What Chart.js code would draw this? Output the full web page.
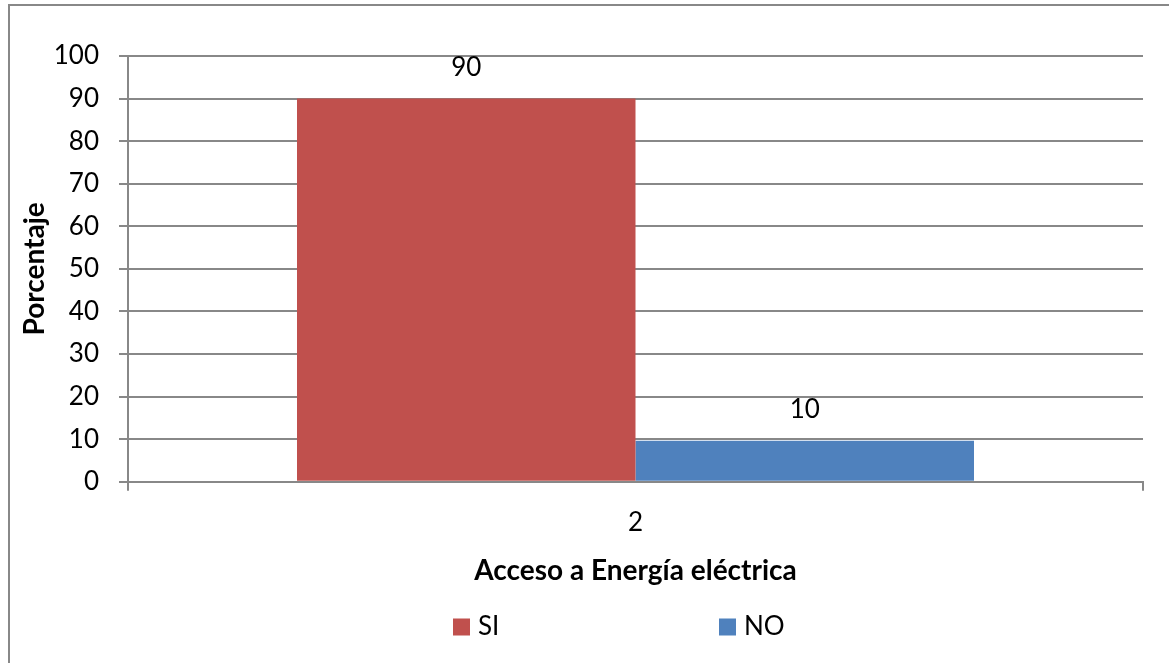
<!DOCTYPE html>
<html>
<head>
<meta charset="utf-8">
<script src="https://cdn.jsdelivr.net/npm/chart.js@4.4.0/dist/chart.umd.min.js"></script>
<style>
html,body{margin:0;padding:0;background:#ffffff;}
#wrap{width:1169px;height:663px;position:relative;overflow:hidden;}
</style>
</head>
<body>
<div id="wrap"><canvas id="c" width="1169" height="663"></canvas></div>
<script>
// ---- data ----
const categories = ['2'];
const seriesNames = ['SI', 'NO'];
const siValues = [90];
const noValues = [9.6];
const seriesColors = ['#C0504D', '#4F81BD'];
const yTitle = 'Porcentaje';
const xTitle = 'Acceso a Energía eléctrica';
const yMin = 0, yMax = 100, yStep = 10;

const FONT = 'Lato';
const GRID = '#888888';

const frame = {
  id: 'frame',
  beforeDraw(chart) {
    const ctx = chart.ctx;
    ctx.save();
    ctx.fillStyle = '#ffffff';
    ctx.fillRect(0, 0, chart.width, chart.height);
    ctx.strokeStyle = GRID;
    ctx.lineWidth = 2;
    ctx.beginPath();
    ctx.moveTo(9, chart.height + 10);
    ctx.lineTo(9, 5);
    ctx.lineTo(chart.width + 10, 5);
    ctx.stroke();
    ctx.restore();
  }
};

const valueLabels = {
  id: 'valueLabels',
  afterDatasetsDraw(chart) {
    const ctx = chart.ctx;
    ctx.save();
    ctx.font = '26px ' + FONT;
    ctx.fillStyle = '#000000';
    ctx.textAlign = 'center';
    ctx.textBaseline = 'middle';
    chart.data.datasets.forEach((ds, i) => {
      chart.getDatasetMeta(i).data.forEach((el, j) => {
        ctx.fillText(String(Math.round(ds.data[j])), el.x, el.y - 31);
      });
    });
    ctx.restore();
  }
};

const legendRow = {
  id: 'legendRow',
  afterDraw(chart) {
    const ctx = chart.ctx;
    const startX = 453, step = 266, cy = 627, box = 17;
    ctx.save();
    ctx.font = '26px ' + FONT;
    ctx.textAlign = 'left';
    ctx.textBaseline = 'middle';
    chart.data.datasets.forEach((ds, i) => {
      const x = startX + i * step;
      ctx.fillStyle = ds.backgroundColor;
      ctx.fillRect(x, cy - box / 2, box, box);
      ctx.fillStyle = '#000000';
      ctx.fillText(ds.label, x + box + 8, cy);
    });
    ctx.restore();
  }
};

new Chart(document.getElementById('c'), {
  type: 'bar',
  data: {
    labels: categories,
    datasets: [
      { label: seriesNames[0], data: siValues, backgroundColor: seriesColors[0], borderWidth: 0 },
      { label: seriesNames[1], data: noValues, backgroundColor: seriesColors[1], borderWidth: 0 }
    ]
  },
  options: {
    responsive: false,
    animation: false,
    devicePixelRatio: 1,
    layout: { padding: { left: 0, top: 56, right: 26, bottom: 63 } },
    plugins: {
      legend: { display: false },
      tooltip: { enabled: false }
    },
    datasets: { bar: { barPercentage: 1.0, categoryPercentage: 0.667 } },
    scales: {
      x: {
        afterFit(s) { s.height = 118.3; },
        grid: { display: true, drawOnChartArea: false, drawTicks: true, tickLength: 9, color: GRID, lineWidth: 2 },
        border: { display: true, color: GRID, width: 2 },
        ticks: { color: '#000000', font: { family: FONT, size: 26 }, padding: 16 },
        title: { display: true, text: xTitle, color: '#000000', font: { family: FONT, size: 28, weight: 'bold' }, padding: { top: 0, bottom: 12 } }
      },
      y: {
        min: yMin, max: yMax,
        afterFit(s) { s.width = 128; },
        grid: { color: GRID, lineWidth: 2, tickLength: 9, drawTicks: true },
        border: { display: true, color: GRID, width: 2 },
        ticks: { stepSize: yStep, color: '#000000', font: { family: FONT, size: 26 }, padding: 20 },
        title: { display: true, text: yTitle, color: '#000000', font: { family: FONT, size: 28, weight: 'bold' }, padding: { top: 18, bottom: 0 } }
      }
    }
  },
  plugins: [frame, valueLabels, legendRow]
});
</script>
</body>
</html>
